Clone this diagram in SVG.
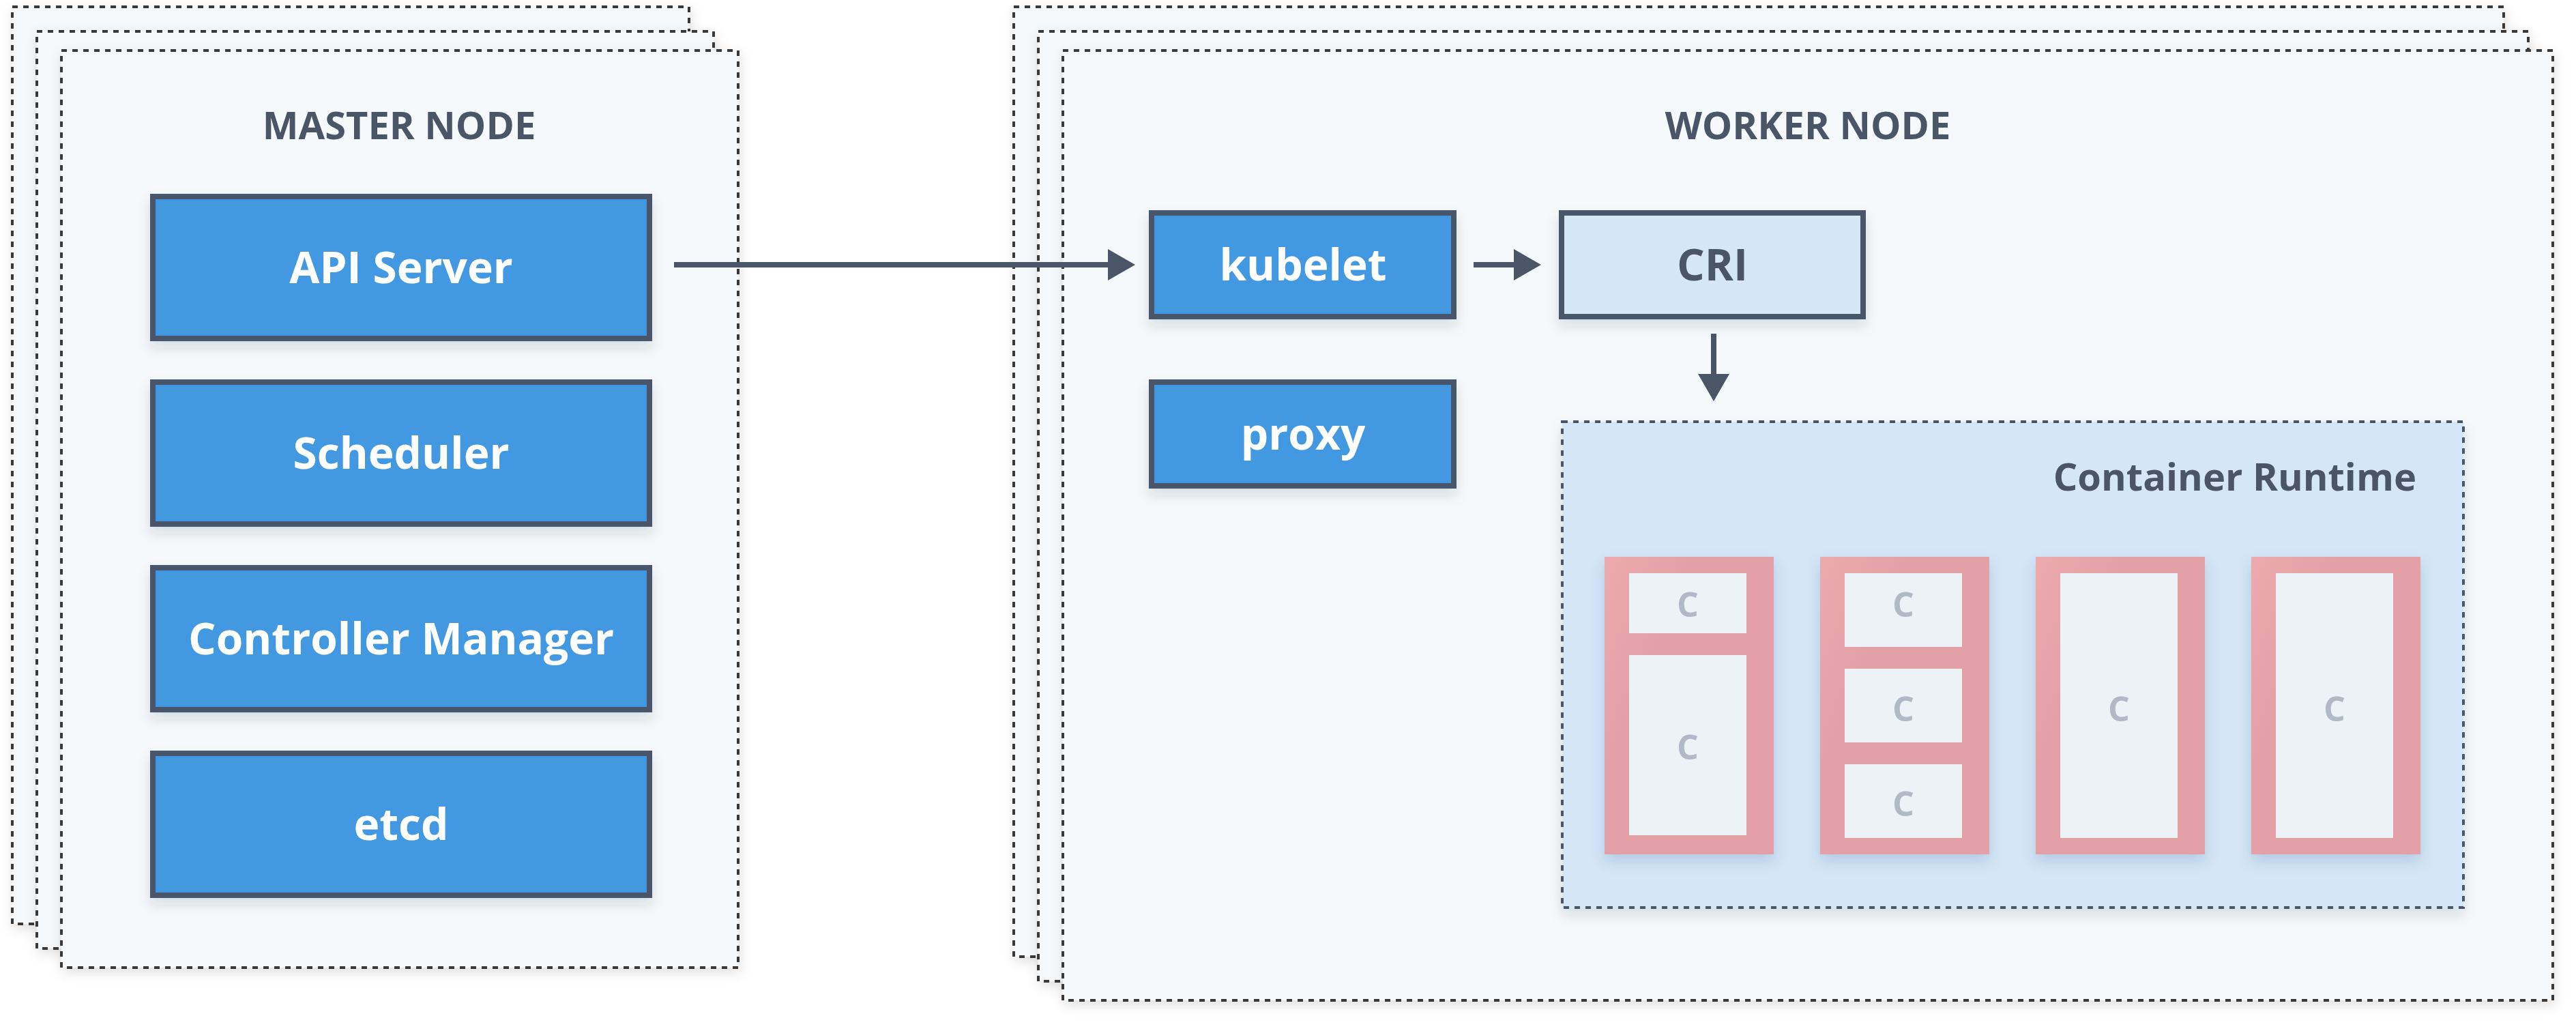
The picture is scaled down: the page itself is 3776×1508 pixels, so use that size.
<svg xmlns="http://www.w3.org/2000/svg" width="3776" height="1508" viewBox="0 0 3776 1508">
  <defs>
    <filter id="frameShadow" x="-5%" y="-5%" width="110%" height="110%">
      <feDropShadow dx="2" dy="6" stdDeviation="9" flood-color="#000000" flood-opacity="0.12"/>
    </filter>
    <filter id="boxShadow" x="-10%" y="-10%" width="120%" height="140%">
      <feDropShadow dx="0" dy="10" stdDeviation="9" flood-color="#1a202c" flood-opacity="0.13"/>
    </filter>
    <filter id="podShadow" x="-20%" y="-10%" width="140%" height="125%">
      <feDropShadow dx="0" dy="10" stdDeviation="10" flood-color="#2c4a6e" flood-opacity="0.18"/>
    </filter>
    <linearGradient id="podFill" x1="0" y1="0" x2="0.35" y2="0.25">
      <stop offset="0" stop-color="#eca9ae"/>
      <stop offset="1" stop-color="#e3a0a6"/>
    </linearGradient>
  </defs>
  <style>
    .frame { fill: #f6f9fc; stroke: #3b3735; stroke-width: 4; stroke-dasharray: 8 8; filter: url(#frameShadow); }
    .box { fill: #4299e1; stroke: #4a5568; stroke-width: 8; filter: url(#boxShadow); }
    .lbox { fill: #d5e7f7; stroke: #4a5568; stroke-width: 8; filter: url(#boxShadow); }
    .runtime { fill: #d4e6f7; stroke: #4a5568; stroke-width: 4; stroke-dasharray: 8 8; filter: url(#boxShadow); }
    .pod { fill: url(#podFill); filter: url(#podShadow); }
    .ctr { fill: #edf2f7; }
    .t { font-family: "Open Sans", "Noto Sans", "Liberation Sans", sans-serif; font-weight: 700; text-anchor: middle; }
    .boxlabel { font-size: 64px; fill: #ffffff; }
    .dlabel { font-size: 64px; fill: #4a5568; }
    .title { font-size: 56px; fill: #4a5568; }
    .clabel { font-size: 50px; fill: #b1b9c6; }
    .conn { stroke: #4a5568; stroke-width: 8; fill: none; }
    .head { fill: #4a5568; }
  </style>

  <g id="master-node">
    <rect class="frame" x="18" y="10" width="992" height="1344"/>
    <rect class="frame" x="54" y="46" width="992" height="1344"/>
    <rect class="frame" x="90" y="74" width="992" height="1344"/>
    <text class="t title" x="585" y="204">MASTER NODE</text>
  </g>

  <g id="worker-node">
    <rect class="frame" x="1486" y="10" width="2184" height="1392"/>
    <rect class="frame" x="1522" y="46" width="2184" height="1392"/>
    <rect class="frame" x="1558" y="74" width="2184" height="1392"/>
    <text class="t title" x="2650" y="204">WORKER NODE</text>
  </g>

  <g id="api-server">
    <rect class="box" x="224" y="288" width="728" height="208"/>
    <text class="t boxlabel" x="588" y="415">API Server</text>
  </g>
  <g id="scheduler">
    <rect class="box" x="224" y="560" width="728" height="208"/>
    <text class="t boxlabel" x="588" y="687">Scheduler</text>
  </g>
  <g id="controller-manager">
    <rect class="box" x="224" y="832" width="728" height="208"/>
    <text class="t boxlabel" x="588" y="959">Controller Manager</text>
  </g>
  <g id="etcd">
    <rect class="box" x="224" y="1104" width="728" height="208"/>
    <text class="t boxlabel" x="588" y="1231">etcd</text>
  </g>

  <g id="kubelet">
    <rect class="box" x="1688" y="312" width="443" height="152"/>
    <text class="t boxlabel" x="1910" y="411">kubelet</text>
  </g>
  <g id="proxy">
    <rect class="box" x="1688" y="560" width="443" height="152"/>
    <text class="t boxlabel" x="1910" y="659">proxy</text>
  </g>
  <g id="cri">
    <rect class="lbox" x="2289" y="312" width="442" height="152"/>
    <text class="t dlabel" x="2510" y="411">CRI</text>
  </g>

  <g id="container-runtime">
    <rect class="runtime" x="2290" y="618" width="1321" height="712"/>
    <text class="t title" x="3542" y="719" style="text-anchor:end">Container Runtime</text>
  </g>

  <g id="pod-1">
    <rect class="pod" x="2352" y="816" width="248" height="436"/>
    <rect class="ctr" x="2388" y="840" width="172" height="88"/>
    <text class="t clabel" x="2474" y="904">C</text>
    <rect class="ctr" x="2388" y="960" width="172" height="264"/>
    <text class="t clabel" x="2474" y="1113">C</text>
  </g>
  <g id="pod-2">
    <rect class="pod" x="2668" y="816" width="248" height="436"/>
    <rect class="ctr" x="2704" y="840" width="172" height="108"/>
    <text class="t clabel" x="2790" y="904">C</text>
    <rect class="ctr" x="2704" y="980" width="172" height="108"/>
    <text class="t clabel" x="2790" y="1057">C</text>
    <rect class="ctr" x="2704" y="1120" width="172" height="108"/>
    <text class="t clabel" x="2790" y="1196">C</text>
  </g>
  <g id="pod-3">
    <rect class="pod" x="2984" y="816" width="248" height="436"/>
    <rect class="ctr" x="3020" y="840" width="172" height="388"/>
    <text class="t clabel" x="3106" y="1057">C</text>
  </g>
  <g id="pod-4">
    <rect class="pod" x="3300" y="816" width="248" height="436"/>
    <rect class="ctr" x="3336" y="840" width="172" height="388"/>
    <text class="t clabel" x="3422" y="1057">C</text>
  </g>

  <g id="connectors">
    <line class="conn" x1="988" y1="388" x2="1628" y2="388"/>
    <polygon class="head" points="1624,365 1664,388 1624,411"/>
    <line class="conn" x1="2160" y1="388" x2="2223" y2="388"/>
    <polygon class="head" points="2219,365 2259,388 2219,411"/>
    <line class="conn" x1="2512" y1="489" x2="2512" y2="552"/>
    <polygon class="head" points="2489,548 2512,588 2535,548"/>
  </g>
</svg>
